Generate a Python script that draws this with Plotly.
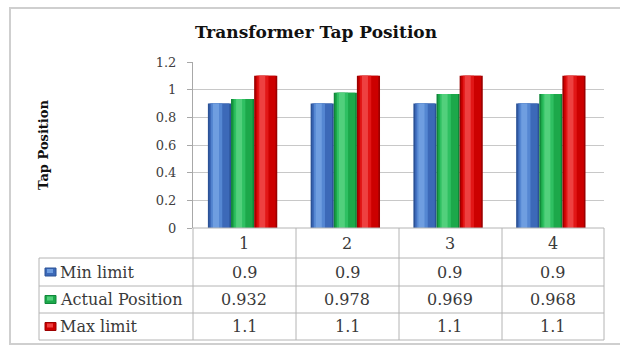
import plotly.graph_objects as go

# ---- data -------------------------------------------------------------
categories = ["1", "2", "3", "4"]
series_names = ["Min limit", "Actual Position", "Max limit"]
min_limit = [0.9, 0.9, 0.9, 0.9]
actual_position = [0.932, 0.978, 0.969, 0.968]
max_limit = [1.1, 1.1, 1.1, 1.1]
y_ticks = [0, 0.2, 0.4, 0.6, 0.8, 1, 1.2]

series_values = [min_limit, actual_position, max_limit]
# shading for each series: edge, body, light, highlight
palettes = [
    ["#2b5296", "#3c69b8", "#5587d2", "#6f9ee0"],
    ["#10873a", "#1ca84a", "#2fc062", "#52d07c"],
    ["#9c0000", "#cc0000", "#e21616", "#ee4040"],
]

# ---- page geometry (pixels) ---------------------------------------------
W, H = 620, 347
L, R, T, B = 193, 604, 62, 228  # plot area


def px(xp):
    return (xp - L) / (R - L)


def py(yp):
    return (B - yp) / (B - T)


fig = go.Figure()

# cylinder-like bars: stacked strips of the same bar, lighter toward the left-centre
bar_w = 0.225
group_offsets = [-0.355, -0.13, 0.095]
strips = [(0.0, 1.0), (0.07, 0.86), (0.14, 0.48), (0.22, 0.26)]
for vals, pal, off in zip(series_values, palettes, group_offsets):
    for (start, frac), col in zip(strips, pal):
        fig.add_trace(go.Bar(
            x=categories, y=vals,
            offset=off + start * bar_w, width=frac * bar_w,
            marker=dict(color=col, line=dict(width=0)),
            hoverinfo="skip", showlegend=False,
        ))

fig.update_layout(
    width=W, height=H,
    margin=dict(l=L, r=W - R, t=T, b=H - B),
    paper_bgcolor="white", plot_bgcolor="white",
    barmode="overlay",
    font=dict(family="DejaVu Serif", color="#404040"),
    title=dict(
        text="<b>Transformer Tap Position</b>",
        x=316 / W, xref="container", xanchor="center",
        y=1 - 32 / H, yref="container", yanchor="middle",
        font=dict(family="DejaVu Serif", size=17, color="#111111"),
    ),
    xaxis=dict(
        type="category", range=[-0.5, 3.5],
        showticklabels=False, showgrid=False, showline=False,
        ticks="", zeroline=False,
    ),
    yaxis=dict(
        range=[0, 1.2], tickvals=y_ticks,
        showgrid=True, gridcolor="#c8c8c8", gridwidth=1,
        showline=True, linecolor="#a8a8a8", linewidth=1,
        ticks="outside", ticklen=5, tickcolor="#a8a8a8",
        ticklabelstandoff=8, zeroline=False,
        tickfont=dict(family="DejaVu Serif", size=13, color="#404040"),
    ),
)

shapes = []
line_col = "#b4b4b4"

# outer chart frame
shapes.append(dict(type="rect", xref="paper", yref="paper",
                   x0=px(10), x1=px(640), y0=py(344), y1=py(8),
                   line=dict(color="#cfcfcf", width=2), layer="below"))

# data table grid
row_lines = [228, 258, 286, 313, 340]
col_lines = [L, 296, 399, 502, R]
shapes.append(dict(type="line", xref="paper", yref="paper",
                   x0=px(L), x1=px(R), y0=py(228), y1=py(228),
                   line=dict(color=line_col, width=1)))
for yl in row_lines[1:]:
    shapes.append(dict(type="line", xref="paper", yref="paper",
                       x0=px(39), x1=px(R), y0=py(yl), y1=py(yl),
                       line=dict(color=line_col, width=1)))
for xl in col_lines:
    shapes.append(dict(type="line", xref="paper", yref="paper",
                       x0=px(xl), x1=px(xl), y0=py(228), y1=py(340),
                       line=dict(color=line_col, width=1)))
shapes.append(dict(type="line", xref="paper", yref="paper",
                   x0=px(39), x1=px(39), y0=py(258), y1=py(340),
                   line=dict(color=line_col, width=1)))

annotations = []
table_font = dict(family="DejaVu Serif", size=16, color="#3a3a3a")

# header row: category numbers, placed at each category's position on the x axis
for i, c in enumerate(categories):
    annotations.append(dict(x=i, xref="x", y=py(243), yref="paper",
                            text=c, showarrow=False, font=table_font,
                            xanchor="center", yanchor="middle"))

# value rows with legend keys
row_centres = [272, 299.5, 326.5]
for name, vals, pal, yc in zip(series_names, series_values, palettes, row_centres):
    shapes.append(dict(type="rect", xref="paper", yref="paper",
                       x0=px(45), x1=px(56), y0=py(yc + 4), y1=py(yc - 4),
                       fillcolor=pal[1], line=dict(color=pal[0], width=1)))
    shapes.append(dict(type="rect", xref="paper", yref="paper",
                       x0=px(47), x1=px(53), y0=py(yc + 1), y1=py(yc - 3),
                       fillcolor=pal[3], line=dict(width=0)))
    annotations.append(dict(x=px(58), xref="paper", y=py(yc), yref="paper",
                            text=name, showarrow=False, font=table_font,
                            xanchor="left", yanchor="middle"))
    for i, v in enumerate(vals):
        annotations.append(dict(x=i, xref="x", y=py(yc), yref="paper",
                                text=f"{v:g}", showarrow=False, font=table_font,
                                xanchor="center", yanchor="middle"))

# y axis title
annotations.append(dict(x=px(43), xref="paper", y=py(145), yref="paper",
                        text="<b>Tap Position</b>", textangle=-90, showarrow=False,
                        font=dict(family="DejaVu Serif", size=13, color="#111111"),
                        xanchor="center", yanchor="middle"))

fig.update_layout(shapes=shapes, annotations=annotations)

fig.write_html("out.html")
